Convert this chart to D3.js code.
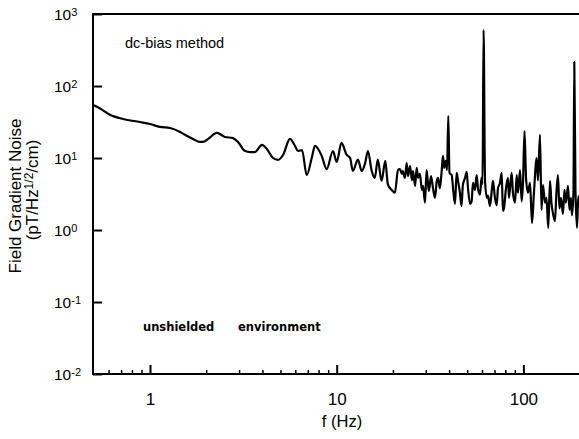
<!DOCTYPE html>
<html>
<head>
<meta charset="utf-8">
<script src="https://cdn.jsdelivr.net/npm/d3@7.9.0/dist/d3.min.js"></script>
<style>
  body { margin: 0; background: #fff; }
  svg { display: block; font-family: "Liberation Sans", Arial, Helvetica, sans-serif; }
</style>
</head>
<body>
<svg id="chart" width="579" height="439"></svg>
<script>
// frequency (Hz) and gradient noise (pT/Hz^1/2/cm)
const freq = [
  0.5, 0.54, 0.61, 0.717, 0.884, 1.0, 1.13, 1.28, 1.45, 1.58, 1.70, 1.85, 1.92, 2.05, 2.28, 2.52,
  2.78, 2.96, 3.23, 3.43, 3.65, 3.98, 4.23, 4.56, 4.85, 5.16, 5.62, 5.98, 6.2, 6.52, 6.91, 7.35,
  7.65, 8.31, 8.84, 9.55, 10.0, 10.6, 11.3, 11.8, 12.2, 13.0, 13.6, 14.2, 14.7, 15.4, 16.0, 16.6,
  17.4, 18.2, 18.8, 19.7, 20.5,
  21.3, 21.8, 22.4, 22.6, 23.2, 23.7, 24.1, 24.7, 25.3, 25.6, 26.3, 26.8, 27.3, 27.9, 28.6, 29.0,
  29.7, 30.3, 30.8, 31.2, 32.0, 32.8, 33.6, 34.4, 34.9, 35.7, 36.5, 37.1, 37.6, 38.4, 39.0, 39.6,
  40.2, 41.3, 42.0, 43.0, 43.9, 44.6, 45.7, 46.6, 47.4, 48.7, 49.7, 50.5, 51.8, 52.8, 53.7, 55.0,
  56.2, 57.1, 58.6, 59.6, 60.4, 61.2, 62.3, 63.8, 64.6, 66.2, 67.9, 68.7, 70.4, 71.9, 73.1, 74.9,
  76.5, 77.7, 78.7, 80.7, 82.7, 83.7, 86.5, 87.9, 90.2, 92.1, 93.5, 95.9, 97.9, 99.5, 101.4, 103.3,
  105.8, 108.5, 111.2, 113.9, 117.8, 119.7, 122.7, 125.0, 127.3, 130.5, 132.9, 135.9, 138.8, 141.3,
  143.9, 147.5, 150.3, 153.1, 156.0, 158.9, 162.9, 165.9, 169.0, 173.3, 176.6, 179.8, 182.0, 185.4,
  187.3, 190.1, 193.7, 196.1, 198.5
];
const noise = [
  54, 48.7, 39.9, 34.8, 31.6, 29.7, 27.0, 26.1, 23.0, 20.2, 18.4, 16.7, 16.7, 18.4, 22.3, 19.6,
  18.9, 16.7, 12.5, 12.1, 12.1, 15.2, 13.3, 10.0, 9.4, 11.0, 18.4, 14.7, 12.5, 12.9, 5.8, 10.0,
  14.7, 10.7, 7.0, 12.5, 8.8, 16.2, 11.1, 10.0, 6.6, 9.5, 6.6, 8.5, 12.5, 6.6, 5.3, 9.5,
  4.8, 9.1, 4.3, 3.6, 3.3,
  6.8, 7.0, 6.0, 6.6, 5.3, 8.5, 5.6, 7.7, 4.9, 6.6, 4.1, 7.3, 5.3, 6.0, 3.6, 4.1,
  2.4, 6.8, 4.5, 3.5, 5.6, 3.8, 2.8, 4.9, 5.3, 3.8, 6.6, 10.7, 7.3, 9.1, 6.8, 38.3,
  6.2, 5.8, 3.8, 2.3, 6.2, 4.9, 3.3, 2.15, 4.2, 5.3, 6.4, 3.8, 2.3, 2.5, 4.5, 3.6,
  5.8, 3.8, 3.1, 5.3, 4.35, 600, 4.8, 2.8, 3.0, 2.15, 3.8, 4.8, 2.8, 2.2, 3.8, 4.5,
  6.2, 1.84, 2.0, 3.8, 5.3, 2.8, 6.2, 3.3, 2.4, 5.8, 3.3, 6.8, 2.5, 4.5, 23.7, 5.3,
  3.3, 4.5, 1.25, 3.3, 10.0, 4.9, 20.9, 1.9, 4.2, 2.4, 2.8, 1.07, 4.8, 2.4,
  1.72, 1.33, 3.3, 5.8, 2.0, 2.8, 1.67, 3.6, 2.4, 4.1, 1.9, 2.8, 1.6, 3.3,
  215, 3.5, 1.07, 2.4, 3.0
];

const xMajor = [1, 10, 100];
const xMinor = [0.6, 0.7, 0.8, 0.9, 2, 3, 4, 5, 6, 7, 8, 9, 20, 30, 40, 50, 60, 70, 80, 90];
const yExps = [-2, -1, 0, 1, 2, 3];

const svg = d3.select('#chart');

const x = d3.scaleLog().domain([0.5, 200]).range([93.8, 579.6]);
const y = d3.scaleLog().domain([0.01, 1000]).range([374, 14]);

const data = freq.map((f, i) => [f, noise[i]]);

// frame: left axis, top line, bottom axis
svg.append('line').attr('x1', 93).attr('x2', 93).attr('y1', 13).attr('y2', 375)
  .attr('stroke', '#000').attr('stroke-width', 2);
svg.append('line').attr('x1', 92).attr('x2', 579).attr('y1', 14).attr('y2', 14)
  .attr('stroke', '#000').attr('stroke-width', 2);
svg.append('line').attr('x1', 92).attr('x2', 579).attr('y1', 374).attr('y2', 374)
  .attr('stroke', '#000').attr('stroke-width', 2);

// x minor ticks
svg.append('g')
  .attr('transform', 'translate(0,374)')
  .call(d3.axisBottom(x).tickValues(xMinor).tickSize(-4).tickFormat(''))
  .call(g => g.select('.domain').remove())
  .call(g => g.selectAll('line').attr('stroke-width', 1.5));

// x major ticks + labels
svg.append('g')
  .attr('transform', 'translate(0,374)')
  .call(d3.axisBottom(x).tickValues(xMajor).tickSize(-9).tickPadding(19).tickFormat(d3.format('d')))
  .call(g => g.select('.domain').remove())
  .call(g => g.selectAll('line').attr('stroke-width', 2))
  .call(g => g.selectAll('text').attr('font-size', 17).attr('fill', '#000')
    .attr('font-family', '"Liberation Sans", Arial, sans-serif'));

// y ticks
svg.append('g')
  .attr('transform', 'translate(93,0)')
  .call(d3.axisLeft(y).tickValues(yExps.map(e => Math.pow(10, e))).tickSize(-9).tickFormat(''))
  .call(g => g.select('.domain').remove())
  .call(g => g.selectAll('line').attr('stroke-width', 2));

// y tick labels as 10 with superscript exponent
const yLab = svg.append('g').attr('font-size', 15.5);
yExps.forEach(e => {
  const t = yLab.append('text')
    .attr('x', 54)
    .attr('y', y(Math.pow(10, e)) + 6);
  t.append('tspan').text('10');
  t.append('tspan').attr('font-size', 11).attr('dy', -4).text(e < 0 ? '-' + (-e) : e);
});

// spectrum trace
const line = d3.line()
  .x(d => x(d[0]))
  .y(d => y(d[1]))
  .curve(d3.curveMonotoneX);

svg.append('path')
  .datum(data)
  .attr('d', line)
  .attr('fill', 'none')
  .attr('stroke', '#000')
  .attr('stroke-width', 2.2)
  .attr('stroke-linejoin', 'round');

// annotations
svg.append('text').attr('x', 125).attr('y', 48).attr('font-size', 14.5).text('dc-bias method');

svg.append('text').attr('x', 143).attr('y', 331)
  .attr('font-family', '"DejaVu Sans", sans-serif').attr('font-weight', 'bold').attr('font-size', 11.5)
  .text('unshielded');
svg.append('text').attr('x', 238).attr('y', 331)
  .attr('font-family', '"DejaVu Sans", sans-serif').attr('font-weight', 'bold').attr('font-size', 11.5)
  .text('environment');

// axis titles
svg.append('text').attr('x', 342).attr('y', 427).attr('text-anchor', 'middle')
  .attr('font-size', 16.5).text('f (Hz)');

svg.append('text')
  .attr('transform', 'translate(21,196) rotate(-90)')
  .attr('text-anchor', 'middle').attr('font-size', 17)
  .text('Field Gradient Noise');

const yt2 = svg.append('text')
  .attr('transform', 'translate(38,190) rotate(-90)')
  .attr('text-anchor', 'middle').attr('font-size', 17);
yt2.append('tspan').text('(pT/Hz');
yt2.append('tspan').attr('font-size', 12).attr('dy', -5).text('1/2');
yt2.append('tspan').attr('dy', 5).text('/cm)');
</script>
</body>
</html>
